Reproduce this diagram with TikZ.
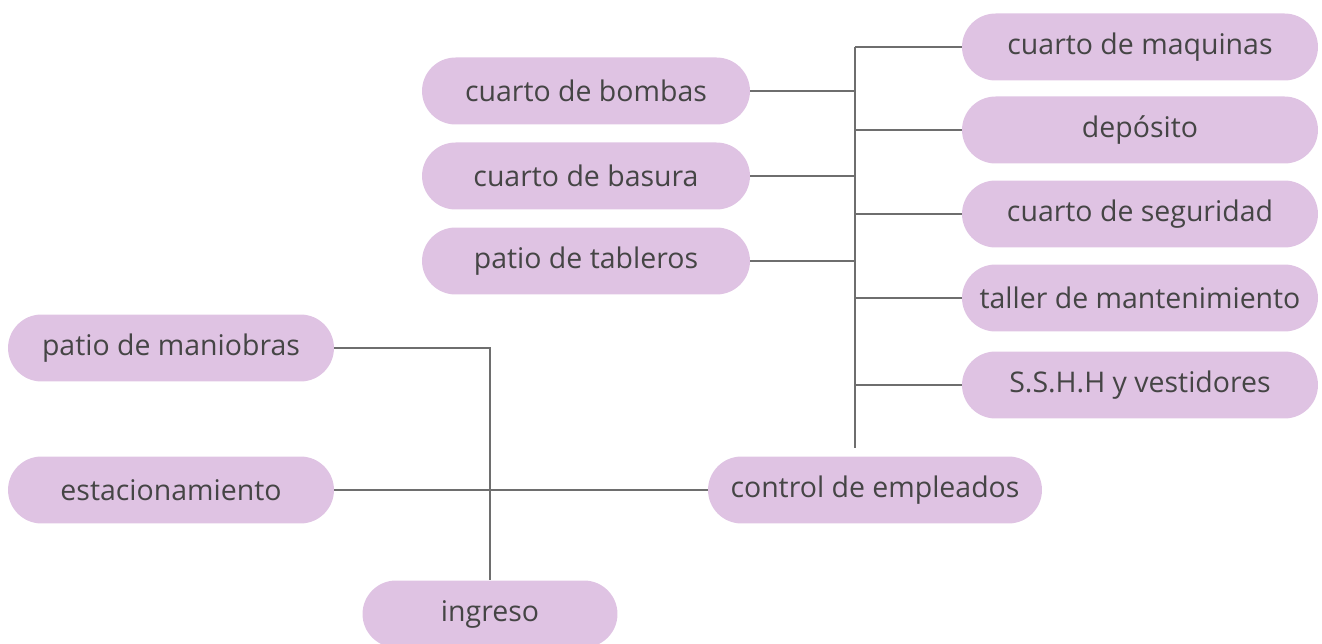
\documentclass[tikz,border=0pt]{standalone}
\usepackage{fontspec}
\setmainfont{Open Sans}
\usepackage{tikz}
\usetikzlibrary{shapes.misc}
\usepackage{xcolor}
\definecolor{figlilac}{HTML}{DFC3E3}
\definecolor{figline}{HTML}{6E6E6E}
\definecolor{figtext}{HTML}{454545}

\begin{document}
\begin{tikzpicture}[
  x=0.02cm, y=-0.02cm,
  pill/.style={rounded rectangle, fill=figlilac, draw=none, minimum height=1.34cm, inner sep=0, text=figtext, font=\fontsize{16.2}{19}\selectfont},
  rbox/.style={pill, minimum width=7.12cm},
  lbox/.style={pill, minimum width=6.56cm},
  link/.style={draw=figline, line width=1.1pt}
]
\useasboundingbox (0,0) rectangle (1322,644);
% right column: services off the main spine
\foreach \n/\y/\t in {mq/47/{cuarto de maquinas},dep/130/{dep\'osito},seg/214/{cuarto de seguridad},tal/298/{taller de mantenimiento},ssh/385/{S.S.H.H y vestidores}}{
  \node[rbox] (\n) at (1140,\y) {\t};
}
% left column
\foreach \n/\y/\t in {bom/91/{cuarto de bombas},bas/176/{cuarto de basura},tab/261/{patio de tableros}}{
  \node[lbox] (\n) at (586,\y) {\t};
}
\node[pill, minimum width=6.52cm] (man) at (171,348) {patio de maniobras};
\node[pill, minimum width=6.52cm] (est) at (171,490) {estacionamiento};
\node[pill, minimum width=6.68cm] (ctl) at (875,490) {control de empleados};
\node[pill, minimum width=5.1cm] (ing) at (490,614) {ingreso};

% spine
\coordinate (top) at (855,47);
\coordinate (bot) at (855,448);
\draw[link] (top) -- (bot);
\foreach \n in {mq,dep,seg,tal,ssh}{
  \draw[link] (\n.west) -- (\n.west -| top);
}
\foreach \n in {bom,bas,tab}{
  \draw[link] (\n.east) -- (\n.east -| top);
}
% lower connections
\draw[link] (man.east) -| (ing.north);
\draw[link] (est.east) -- (ctl.west);
\end{tikzpicture}
\end{document}
